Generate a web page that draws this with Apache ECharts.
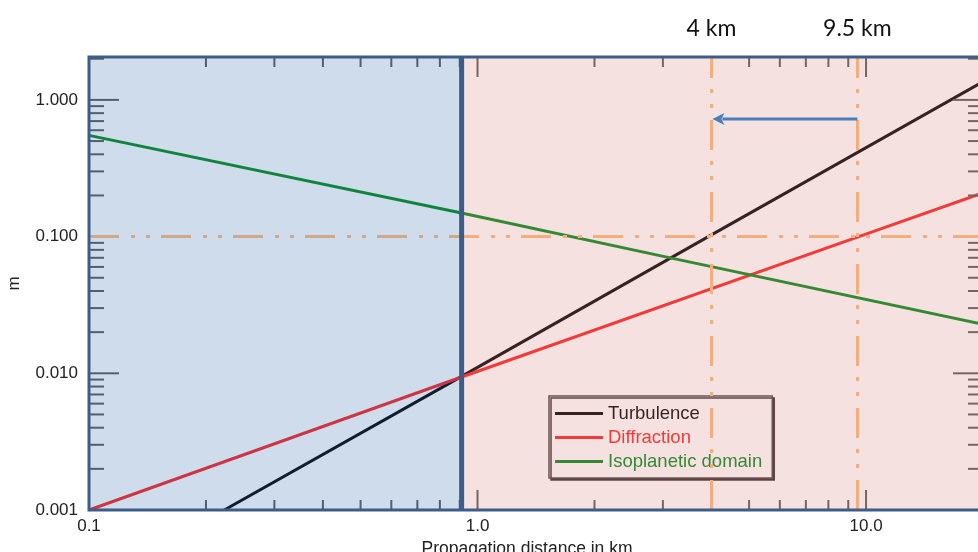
<!DOCTYPE html>
<html>
<head>
<meta charset="utf-8">
<script src="https://cdn.jsdelivr.net/npm/echarts@6/dist/echarts.min.js"></script>
<style>
  html, body { margin: 0; padding: 0; background: #ffffff; overflow: hidden; }
  #chart { width: 978px; height: 552px; }
</style>
</head>
<body>
<div id="chart"></div>
<script>
// Length scales (m) versus propagation distance (km), log–log.
const seriesNames = ['Turbulence', 'Diffraction', 'Isoplanetic domain'];
const turbulence  = [[0.223, 0.001], [0.91, 0.0095], [4, 0.103], [20, 1.36]];
const diffraction = [[0.1, 0.001], [0.91, 0.0094], [9.5, 0.099], [20, 0.209]];
const isoplanetic = [[0.1, 0.55], [0.91, 0.149], [3.2, 0.069], [20, 0.0228]];

// Axis ranges and tick values
const xRange = [0.1, 20];
const yRange = [0.001, 2.06];
const xMajorTicks = [0.1, 1, 10];
const xMinorTicks = [0.2, 0.3, 0.4, 0.5, 0.6, 0.7, 0.8, 0.9, 2, 3, 4, 5, 6, 7, 8, 9, 20];
const yMajorTicks = [0.001, 0.01, 0.1, 1];
const yMinorTicks = [0.002, 0.003, 0.004, 0.005, 0.006, 0.007, 0.008, 0.009,
                     0.02, 0.03, 0.04, 0.05, 0.06, 0.07, 0.08, 0.09,
                     0.2, 0.3, 0.4, 0.5, 0.6, 0.7, 0.8, 0.9, 2];

// Regime boundary and reference markers
const regionBounds = [[0.1, 0.91], [0.91, 20]];
const dividerKm = 0.91;
const markerKm = [4, 9.5];
const markerLabels = ['4 km', '9.5 km'];
const referenceLevel = 0.1;
const arrowFromTo = [9.5, 4];
const arrowLevel = 0.726;

const FONT = '"Liberation Sans", Arial, Helvetica, sans-serif';
const FRAME = '#3c5c8a';
const TICK = '#585858';
const ORANGE = '#ffbb7c';
const ARROW = '#4a7ebb';
const lineColors = ['#000000', '#fc2021', '#008a18'];
const regionFills = ['rgba(64,116,180,0.25)', 'rgba(212,136,132,0.25)'];

const chart = echarts.init(document.getElementById('chart'), null, { renderer: 'canvas' });

const xTickData = xMajorTicks.map(v => [v, yRange[0], 20])
  .concat(xMinorTicks.map(v => [v, yRange[0], 10]));
const yTickData = yMajorTicks.map(v => [xRange[0], v, 30])
  .concat(yMinorTicks.map(v => [xRange[0], v, 15]));

function seg(x1, y1, x2, y2, stroke, w) {
  return { type: 'line', shape: { x1, y1, x2, y2 }, style: { stroke, lineWidth: w } };
}

const curveSeries = [turbulence, diffraction, isoplanetic].map((d, i) => ({
  name: seriesNames[i],
  type: 'line',
  data: d,
  symbol: 'none',
  z: 2,
  lineStyle: { color: lineColors[i], width: 3 },
  itemStyle: { color: lineColors[i] },
  silent: true
}));

const option = {
  animation: false,
  backgroundColor: '#ffffff',
  grid: { left: 89, top: 57, width: 894, height: 453, containLabel: false, outerBoundsMode: 'none' },
  legend: {
    orient: 'vertical',
    left: 549,
    top: 396,
    padding: [8, 10, 7, 6],
    itemGap: 5,
    itemWidth: 48,
    itemHeight: 3,
    icon: 'rect',
    selectedMode: false,
    backgroundColor: '#ffffff',
    borderColor: '#4a4444',
    borderWidth: 1.5,
    borderRadius: 0,
    shadowColor: 'rgba(50,40,40,0.95)',
    shadowOffsetX: 2,
    shadowOffsetY: 2,
    shadowBlur: 0,
    textStyle: { fontFamily: FONT, fontSize: 18.5, lineHeight: 14 },
    data: seriesNames.map((n, i) => ({ name: n, textStyle: { color: lineColors[i] } }))
  },
  xAxis: {
    type: 'log',
    logBase: 10,
    min: xRange[0],
    max: xRange[1],
    axisLine: { show: false },
    axisTick: { show: false },
    splitLine: { show: false },
    axisLabel: {
      formatter: v => Number(v).toFixed(1),
      showMaxLabel: false,
      color: '#222', fontSize: 17, fontFamily: FONT, margin: 8
    },
    name: 'Propagation distance in km',
    nameLocation: 'middle',
    nameGap: 28,
    nameTextStyle: { color: '#222', fontSize: 17.5, fontFamily: FONT, padding: [0, 18, 0, 0] }
  },
  yAxis: {
    type: 'log',
    logBase: 10,
    min: yRange[0],
    max: yRange[1],
    axisLine: { show: false },
    axisTick: { show: false },
    splitLine: { show: false },
    axisLabel: {
      formatter: v => Number(v).toFixed(3),
      showMaxLabel: false,
      color: '#222', fontSize: 17, fontFamily: FONT, margin: 11
    },
    name: 'm',
    nameLocation: 'middle',
    nameGap: 66,
    nameRotate: 90,
    nameTextStyle: { color: '#222', fontSize: 17, fontFamily: FONT }
  },
  series: [
    ...curveSeries,
    {
      // tick marks along the bottom and top edges
      type: 'custom', z: 3, silent: true,
      data: xTickData,
      encode: { x: 0, y: 1 },
      renderItem: (params, api) => {
        const v = api.value(0), len = api.value(2);
        const b = api.coord([v, yRange[0]]);
        const t = api.coord([v, yRange[1]]);
        return { type: 'group', children: [
          seg(b[0], b[1], b[0], b[1] - len, TICK, 2),
          seg(t[0], t[1], t[0], t[1] + len, TICK, 2)
        ] };
      }
    },
    {
      // tick marks along the left and right edges
      type: 'custom', z: 3, silent: true,
      data: yTickData,
      encode: { x: 0, y: 1 },
      renderItem: (params, api) => {
        const v = api.value(1), len = api.value(2);
        const l = api.coord([xRange[0], v]);
        const r = api.coord([xRange[1], v]);
        return { type: 'group', children: [
          seg(l[0], l[1], l[0] + len, l[1], TICK, 2),
          seg(r[0], r[1], r[0] - len, r[1], TICK, 2)
        ] };
      }
    },
    {
      // translucent tint of the two regimes
      type: 'custom', z: 10, silent: true,
      data: regionBounds.map((b, i) => [b[0], yRange[0], b[1], yRange[1], i]),
      encode: { x: [0, 2], y: [1, 3] },
      renderItem: (params, api) => {
        const p0 = api.coord([api.value(0), api.value(1)]);
        const p1 = api.coord([api.value(2), api.value(3)]);
        return {
          type: 'rect',
          shape: { x: p0[0], y: p1[1], width: p1[0] - p0[0], height: p0[1] - p1[1] },
          style: { fill: regionFills[api.value(4)] }
        };
      }
    },
    {
      // dash-dot reference lines with distance labels
      type: 'line', z: 12, data: [], silent: true,
      markLine: {
        silent: true,
        symbol: 'none',
        animation: false,
        lineStyle: { color: ORANGE, width: 3, type: [30, 12, 4, 11, 4, 11], opacity: 1 },
        label: { show: false },
        emphasis: { disabled: true },
        data: [{ yAxis: referenceLevel }].concat(markerKm.map((k, i) => ({
          xAxis: k,
          label: {
            show: true, position: 'end', distance: 17,
            formatter: markerLabels[i],
            color: '#111', fontSize: 23, fontFamily: 'Lato, "Open Sans", sans-serif'
          }
        })))
      }
    },
    {
      // plot frame and regime divider
      type: 'custom', z: 14, silent: true,
      data: [[xRange[0], yRange[0], xRange[1], yRange[1], dividerKm]],
      encode: { x: [0, 2], y: [1, 3] },
      renderItem: (params, api) => {
        const p0 = api.coord([api.value(0), api.value(1)]);
        const p1 = api.coord([api.value(2), api.value(3)]);
        const d0 = api.coord([api.value(4), api.value(1)]);
        const d1 = api.coord([api.value(4), api.value(3)]);
        return { type: 'group', children: [
          {
            type: 'rect',
            shape: { x: p0[0], y: p1[1], width: p1[0] - p0[0], height: p0[1] - p1[1] },
            style: { fill: 'none', stroke: FRAME, lineWidth: 3 }
          },
          seg(d0[0], d0[1] + 1, d1[0], d1[1] - 1, FRAME, 5)
        ] };
      }
    },
    {
      // arrow from 9.5 km back to 4 km
      type: 'custom', z: 15, silent: true,
      data: [[arrowFromTo[0], arrowLevel, arrowFromTo[1], arrowLevel]],
      encode: { x: [0, 2], y: [1, 3] },
      renderItem: (params, api) => {
        const s = api.coord([api.value(0), api.value(1)]);
        const e = api.coord([api.value(2), api.value(3)]);
        const head = 12, half = 6;
        return { type: 'group', children: [
          seg(s[0], s[1], e[0] + head - 1, e[1], ARROW, 3),
          {
            type: 'polygon',
            shape: { points: [[e[0] + 1, e[1]], [e[0] + head + 1, e[1] - half], [e[0] + head - 2, e[1]], [e[0] + head + 1, e[1] + half]] },
            style: { fill: ARROW }
          }
        ] };
      }
    }
  ]
};

chart.setOption(option);
</script>
</body>
</html>
